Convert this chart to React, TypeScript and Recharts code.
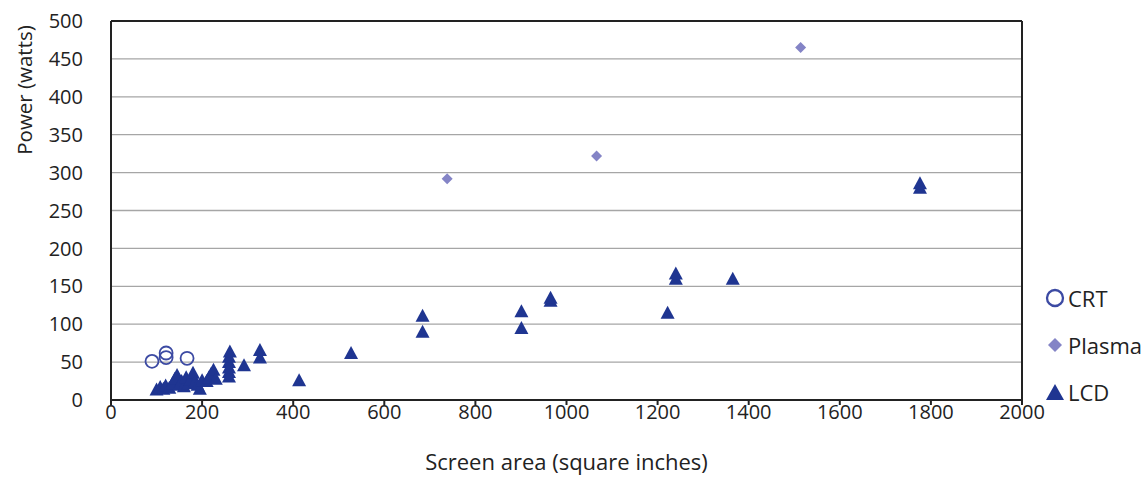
import { CartesianGrid, ReferenceLine, Scatter, ScatterChart, XAxis, YAxis } from "recharts"

// screen area (sq in) vs power (W)
const crtArea = [90, 121, 121, 167]
const crtPower = [51, 62, 56, 55]

const plasmaArea = [738, 1066, 1514]
const plasmaPower = [292, 322, 465]

const lcdArea = [
  100, 108, 115, 120, 128, 135, 140, 145, 150, 155, 160, 165, 170, 175, 180, 185, 190, 195, 200, 210, 215, 220,
  225, 230, 259, 259, 259, 259, 259, 261, 292, 327, 327, 413, 527, 684, 684, 901, 901, 965, 965, 1222, 1240, 1240,
  1365, 1776, 1776,
]
const lcdPower = [
  14, 17, 15, 19, 16, 22, 28, 33, 20, 25, 18, 30, 22, 27, 36, 24, 20, 15, 26, 25, 30, 35, 40, 28, 31, 37, 43, 50,
  57, 64, 46, 56, 66, 26, 62, 90, 111, 95, 117, 131, 135, 115, 160, 167, 160, 280, 286,
]

const xTicks = [0, 200, 400, 600, 800, 1000, 1200, 1400, 1600, 1800, 2000]
const yTicks = [0, 50, 100, 150, 200, 250, 300, 350, 400, 450, 500]

const zip = (xs: number[], ys: number[]) => xs.map((x, i) => ({ x, y: ys[i] }))

const NAVY = "#1f3591"
const CRT_BLUE = "#3c4aa3"
const LAVENDER = "#8484c6"
const FONT = "'Open Sans', sans-serif"
const TXT = "#222"

const Circle = (p: any) => (
  <circle cx={p.cx} cy={p.cy} r={6.5} fill="none" stroke={CRT_BLUE} strokeWidth={1.8} />
)
const Diamond = (p: any) => (
  <polygon
    points={`${p.cx},${p.cy - 5.5} ${p.cx + 5.5},${p.cy} ${p.cx},${p.cy + 5.5} ${p.cx - 5.5},${p.cy}`}
    fill={LAVENDER}
  />
)
const Triangle = (p: any) => (
  <polygon points={`${p.cx},${p.cy - 7} ${p.cx + 7},${p.cy + 6} ${p.cx - 7},${p.cy + 6}`} fill={NAVY} />
)

function LegendBox() {
  const items = [
    { name: "CRT", icon: <circle cx={10} cy={10} r={8} fill="none" stroke={CRT_BLUE} strokeWidth={2.3} /> },
    { name: "Plasma", icon: <polygon points="10,3 17,10 10,17 3,10" fill={LAVENDER} /> },
    { name: "LCD", icon: <polygon points="10,2 19,18 1,18" fill={NAVY} /> },
  ]
  return (
    <div style={{ position: "absolute", left: 1045, top: 274, fontFamily: FONT, fontSize: 22, color: TXT, whiteSpace: "nowrap" }}>
      {items.map((it) => (
        <div key={it.name} style={{ display: "flex", alignItems: "center", height: 47 }}>
          <svg width={20} height={20} style={{ marginRight: 3 }}>
            {it.icon}
          </svg>
          <span>{it.name}</span>
        </div>
      ))}
    </div>
  )
}

export default function App() {
  return (
    <div style={{ position: "absolute", left: 0, top: 0, width: 1147, height: 479, background: "#fff", overflow: "hidden" }}>
      <ScatterChart width={1147} height={479} margin={{ top: 21, right: 125, bottom: 49, left: 0 }}>
        <CartesianGrid vertical={false} stroke="#a6a6a6" strokeWidth={1.3} />
        <XAxis
          type="number"
          dataKey="x"
          domain={[0, 2000]}
          ticks={xTicks}
          stroke={TXT}
          strokeWidth={2}
          tickSize={5}
          tickMargin={0}
          tick={{ fontFamily: FONT, fontSize: 20, fill: TXT }}
          label={{
            value: "Screen area (square inches)",
            position: "bottom",
            offset: 24,
            style: { fontFamily: FONT, fontSize: 22, fill: TXT },
          }}
        />
        <YAxis
          type="number"
          dataKey="y"
          domain={[0, 500]}
          ticks={yTicks}
          width={111}
          stroke={TXT}
          strokeWidth={2}
          tickLine={false}
          tickMargin={22}
          tick={{ fontFamily: FONT, fontSize: 20, fill: TXT }}
          label={() => (
            <text
              x={24}
              y={90}
              transform="rotate(-90 24 90)"
              textAnchor="middle"
              dominantBaseline="central"
              style={{ fontFamily: FONT, fontSize: 20.5, fill: TXT }}
            >
              Power (watts)
            </text>
          )}
        />
        <ReferenceLine y={500} stroke={TXT} strokeWidth={2} />
        <ReferenceLine x={2000} stroke={TXT} strokeWidth={2} />
        <Scatter name="CRT" data={zip(crtArea, crtPower)} shape={Circle} isAnimationActive={false} />
        <Scatter name="Plasma" data={zip(plasmaArea, plasmaPower)} shape={Diamond} isAnimationActive={false} />
        <Scatter name="LCD" data={zip(lcdArea, lcdPower)} shape={Triangle} isAnimationActive={false} />
      </ScatterChart>
      <LegendBox />
    </div>
  )
}
